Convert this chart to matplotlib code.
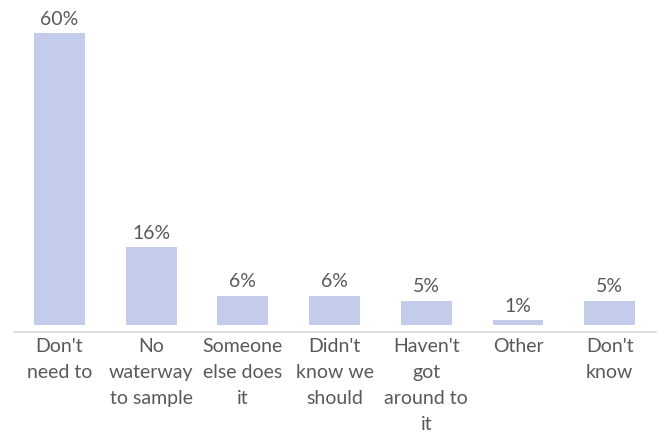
import matplotlib
matplotlib.use("Agg")
import matplotlib.pyplot as plt

categories = ["Don't\nneed to", "No\nwaterway\nto sample", "Someone\nelse does\nit",
              "Didn't\nknow we\nshould", "Haven't\ngot\naround to\nit", "Other", "Don't\nknow"]
values = [60, 16, 6, 6, 5, 1, 5]
value_labels = ["60%", "16%", "6%", "6%", "5%", "1%", "5%"]

plt.rcParams['font.family'] = ['Lato', 'DejaVu Sans']
text_color = "#595959"
bar_color = "#c3cdeb"

W, H = 660, 432
fig = plt.figure(figsize=(W / 100, H / 100), dpi=100)
ax = fig.add_axes([13.65 / W, 100 / H, 641.9 / W, 332 / H])

x = list(range(len(values)))
ax.bar(x, values, width=0.556, color=bar_color, zorder=2)
for xi, v, lab in zip(x, values, value_labels):
    ax.annotate(lab, (xi, v), xytext=(0, 6), textcoords="offset points",
                ha="center", va="baseline", fontsize=14, color=text_color)

ax.set_xlim(-0.5, 6.5)
ax.set_ylim(-1.44, 66.85)
ax.set_xticks(x)
ax.set_xticklabels(categories, fontsize=14, color=text_color, linespacing=1.65)
ax.tick_params(axis="x", length=0, pad=4)
ax.set_yticks([])
for side in ["top", "left", "right"]:
    ax.spines[side].set_visible(False)
ax.spines["bottom"].set_color("#d9d9d9")
ax.spines["bottom"].set_linewidth(1.2)

fig.savefig("out.png", dpi=100)
